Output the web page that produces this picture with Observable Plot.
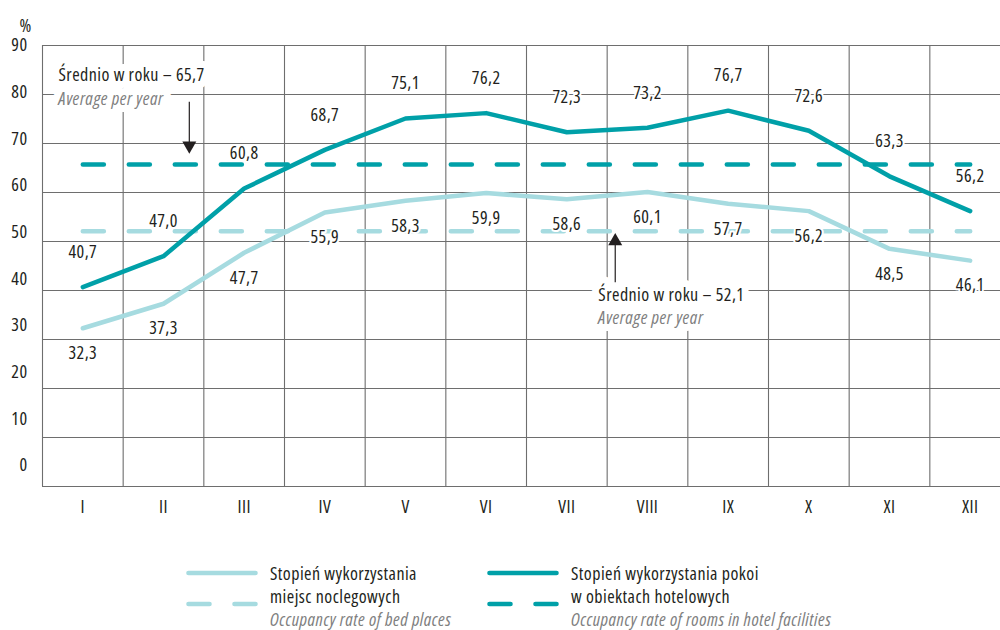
<!DOCTYPE html>
<html>
<head>
<meta charset="utf-8">
<script src="https://cdn.jsdelivr.net/npm/d3@7"></script>
<script src="https://cdn.jsdelivr.net/npm/@observablehq/plot@0.6"></script>
<style>
  html, body { margin: 0; padding: 0; background: #fff; }
  #wrap { width: 1000px; }
  #wrap svg, #wrap svg text { font-family: "Open Sans", "Roboto Condensed", sans-serif; font-stretch: 75%; letter-spacing: 0.45px; }
  #wrap svg g[font-style="italic"] text, #wrap svg text[font-style="italic"] { letter-spacing: 0.55px; }
</style>
</head>
<body>
<div id="wrap"></div>
<script>
// ---- data ----
const months = ["I","II","III","IV","V","VI","VII","VIII","IX","X","XI","XII"];
const bedPlaces = [32.3, 37.3, 47.7, 55.9, 58.3, 59.9, 58.6, 60.1, 57.7, 56.2, 48.5, 46.1];
const hotelRooms = [40.7, 47.0, 60.8, 68.7, 75.1, 76.2, 72.3, 73.2, 76.7, 72.6, 63.3, 56.2];
const avgBed = 52.1;
const avgRooms = 65.7;
const yTicks = [0, 10, 20, 30, 40, 50, 60, 70, 80, 90];
const avgLabelPl = "Średnio w roku";
const avgLabelEn = "Average per year";
const legendBed = ["Stopień wykorzystania", "miejsc noclegowych", "Occupancy rate of bed places"];
const legendRooms = ["Stopień wykorzystania pokoi", "w obiektach hotelowych", "Occupancy rate of rooms in hotel facilities"];

// ---- styles ----
const dark = "#00a0a8";
const light = "#a6dbe0";
const ink = "#231f20";
const grey = "#808080";
const gridC = "#6e6e6e";
const FONT = "\"Open Sans\", \"Roboto Condensed\", sans-serif";

const fmt = v => v.toFixed(1).replace(".", ",");
const rows = months.map((m, i) => ({i: i + 1, m, bed: bedPlaces[i], rooms: hotelRooms[i]}));
const bounds = months.map((_, i) => i + 0.5).concat([months.length + 0.5]);
// y-axis labels in the original are spread slightly tighter than the grid
const labelY = t => (21 + t * 420 / 90) / 4.9;

const chart = Plot.plot({
  width: 1000,
  height: 540,
  marginLeft: 42,
  marginRight: 0,
  marginTop: 45,
  marginBottom: 54,
  x: {domain: [0.5, 12.5], range: [42, 1010], axis: null},
  y: {domain: [0, 90], axis: null},
  style: {fontFamily: FONT, fontSize: "18px", color: ink, background: "white"},
  marks: [
    Plot.ruleY(yTicks, {y: d => d, stroke: gridC, strokeWidth: 1}),
    Plot.ruleX(bounds, {x: d => d, stroke: gridC, strokeWidth: 1.1}),
    Plot.text(yTicks, {y: labelY, text: d => String(d), frameAnchor: "left", dx: -15, textAnchor: "end", fill: ink}),
    Plot.text(["%"], {frameAnchor: "top-left", dx: -23, dy: -26, text: d => d, fill: ink}),
    Plot.text(rows, {x: "i", text: "m", frameAnchor: "bottom", dy: 26, fill: ink}),
    // averages
    Plot.line(rows, {x: "i", y: () => avgBed, stroke: light, strokeWidth: 4.6, strokeDasharray: "21,25", strokeLinecap: "round"}),
    Plot.line(rows, {x: "i", y: () => avgRooms, stroke: dark, strokeWidth: 4.6, strokeDasharray: "21,25", strokeLinecap: "round"}),
    // series
    Plot.line(rows, {x: "i", y: "bed", stroke: light, strokeWidth: 4.5, strokeLinejoin: "round", strokeLinecap: "round"}),
    Plot.line(rows, {x: "i", y: "rooms", stroke: dark, strokeWidth: 4.5, strokeLinejoin: "round", strokeLinecap: "round"}),
    // value labels
    Plot.text(rows, {x: "i", y: "bed", text: d => fmt(d.bed), dy: 25, fill: ink, stroke: "white", strokeWidth: 4}),
    Plot.text(rows, {x: "i", y: "rooms", text: d => fmt(d.rooms), dy: -35, fill: ink, stroke: "white", strokeWidth: 4}),
    // annotation: rooms average
    Plot.text([`${avgLabelPl} – ${fmt(avgRooms)}`], {x: 0.698, y: 83.9, text: d => d, textAnchor: "start", fill: ink, stroke: "white", strokeWidth: 14, strokeLinejoin: "round"}),
    Plot.text([avgLabelEn], {x: 0.698, y: 79.0, text: d => d, textAnchor: "start", fill: grey, fontStyle: "italic", stroke: "white", strokeWidth: 14, strokeLinejoin: "round"}),
    Plot.ruleX([2.32], {x: d => d, y1: 78.4, y2: 70.0, stroke: ink, strokeWidth: 1.2}),
    Plot.dot([2.32], {x: d => d, y: avgRooms, dy: -19, symbol: "triangle", r: 5.2, fill: ink, rotate: 180}),
    // annotation: bed average
    Plot.text([`${avgLabelPl} – ${fmt(avgBed)}`], {x: 7.39, y: 39.0, text: d => d, textAnchor: "start", fill: ink, stroke: "white", strokeWidth: 14, strokeLinejoin: "round"}),
    Plot.text([avgLabelEn], {x: 7.39, y: 34.3, text: d => d, textAnchor: "start", fill: grey, fontStyle: "italic", stroke: "white", strokeWidth: 14, strokeLinejoin: "round"}),
    Plot.ruleX([7.60], {x: d => d, y1: 49.5, y2: 41.6, stroke: ink, strokeWidth: 1.2}),
    Plot.dot([7.60], {x: d => d, y: avgBed, dy: 10, symbol: "triangle", r: 5.2, fill: ink})
  ]
});
document.getElementById("wrap").appendChild(chart);

// ---- legend (below the chart) ----
const leg = d3.select("#wrap").append("svg")
  .attr("width", 1000).attr("height", 90)
  .style("display", "block")
  .attr("font-family", FONT).attr("font-size", 18);
const items = [
  {x: 186, color: light, lines: legendBed},
  {x: 487, color: dark, lines: legendRooms}
];
items.forEach(it => {
  leg.append("line").attr("x1", it.x + 2.5).attr("x2", it.x + 69.5).attr("y1", 33).attr("y2", 33)
    .attr("stroke", it.color).attr("stroke-width", 4.6).attr("stroke-linecap", "round");
  leg.append("line").attr("x1", it.x + 2.5).attr("x2", it.x + 69.5).attr("y1", 64).attr("y2", 64)
    .attr("stroke", it.color).attr("stroke-width", 4.6).attr("stroke-linecap", "round")
    .attr("stroke-dasharray", "21,25");
  it.lines.forEach((t, k) => {
    leg.append("text").attr("x", it.x + 84).attr("y", 34 + k * 23).attr("dy", "0.35em")
      .attr("fill", k === 2 ? grey : ink)
      .attr("font-style", k === 2 ? "italic" : "normal")
      .text(t);
  });
});
</script>
</body>
</html>
